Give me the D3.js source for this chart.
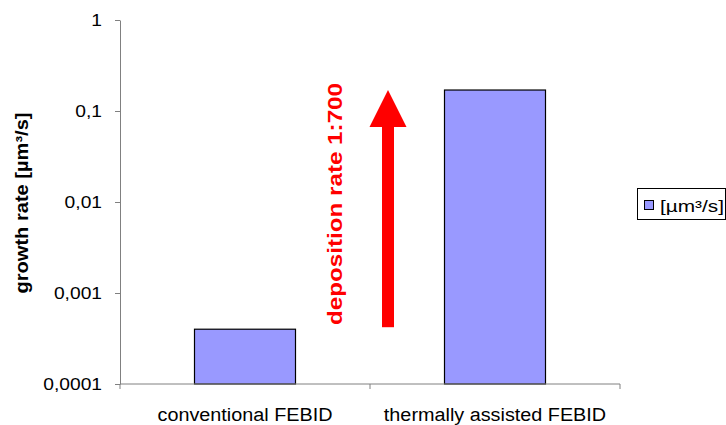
<!DOCTYPE html>
<html>
<head>
<meta charset="utf-8">
<script src="https://cdn.jsdelivr.net/npm/d3@7"></script>
<style>
  html, body { margin: 0; padding: 0; background: #fff; }
  svg { display: block; font-family: "Liberation Sans", Arial, sans-serif; }
</style>
</head>
<body>
<svg id="chart" width="726" height="425"></svg>
<script>
// ---- data ----
const categories = ["conventional FEBID", "thermally assisted FEBID"];
const values = [0.0004, 0.17];
const yTickValues = [0.0001, 0.001, 0.01, 0.1, 1];
const yTickLabels = ["0,0001", "0,001", "0,01", "0,1", "1"];
const seriesName = "[µm³/s]";
const yTitle = "growth rate [µm³/s]";
const annotation = "deposition rate 1:700";

// ---- layout ----
const svg = d3.select("#chart");
const plot = { left: 120, right: 620, top: 20, bottom: 384 };

const x = d3.scaleBand().domain(categories).range([plot.left, plot.right]).padding(0);
const y = d3.scaleLog().domain([0.0001, 1]).range([plot.bottom, plot.top]);

const axisColor = "#808080";
const barFill = "#9999ff";

// stretch helper: match reference glyph widths
function stretch(sel, k) {
  sel.each(function () {
    const len = this.getComputedTextLength();
    d3.select(this).attr("textLength", len * k).attr("lengthAdjust", "spacingAndGlyphs");
  });
}

// bars
const barW = x.bandwidth() * 0.404;
svg.append("g").selectAll("rect")
  .data(categories)
  .join("rect")
  .attr("x", (d) => x(d) + x.bandwidth() / 2 - barW / 2)
  .attr("y", (d, i) => y(values[i]))
  .attr("width", barW)
  .attr("height", (d, i) => y(0.0001) - y(values[i]))
  .attr("fill", barFill)
  .attr("stroke", "#000")
  .attr("stroke-width", 1.2);

// y axis
const yAxis = d3.axisLeft(y)
  .tickValues(yTickValues)
  .tickFormat((d, i) => yTickLabels[i])
  .tickSize(5)
  .tickSizeOuter(0)
  .tickPadding(13);
const gy = svg.append("g").attr("transform", `translate(${plot.left},0)`).call(yAxis);
gy.select(".domain").attr("stroke", axisColor);
gy.selectAll(".tick line").attr("stroke", axisColor);
gy.selectAll(".tick text")
  .attr("fill", "#000")
  .attr("font-size", 17)
  .attr("font-family", "Liberation Sans, Arial, sans-serif")
  .call(stretch, 1.13);

// x axis (ticks at band boundaries)
const boundaries = [plot.left].concat(categories.map((c) => x(c) + x.bandwidth()));
const gx = svg.append("g").attr("transform", `translate(0,${plot.bottom})`);
gx.append("line")
  .attr("x1", plot.left).attr("x2", plot.right)
  .attr("stroke", axisColor);
gx.selectAll("line.tk")
  .data(boundaries)
  .join("line")
  .attr("class", "tk")
  .attr("x1", (d) => d).attr("x2", (d) => d)
  .attr("y1", 0).attr("y2", 5)
  .attr("stroke", axisColor);
gx.selectAll("text")
  .data(categories)
  .join("text")
  .attr("x", (d) => x(d) + x.bandwidth() / 2)
  .attr("y", 37)
  .attr("text-anchor", "middle")
  .attr("font-size", 18)
  .attr("fill", "#000")
  .text((d) => d)
  .call(stretch, 1.1);

// y title
svg.append("text")
  .attr("transform", `translate(28,${(plot.top + plot.bottom) / 2 + 1}) rotate(-90)`)
  .attr("text-anchor", "middle")
  .attr("font-size", 18)
  .attr("font-weight", "bold")
  .attr("fill", "#000")
  .attr("textLength", 181)
  .attr("lengthAdjust", "spacingAndGlyphs")
  .text(yTitle);

// annotation arrow from conventional value to thermally assisted value
const arrowX = x(categories[1]) + 18;
const shaftW = 12, headW = 37, headH = 37;
const yLow = y(values[0]) - 2, yHigh = y(values[1]);
svg.append("rect")
  .attr("x", arrowX - shaftW / 2)
  .attr("y", yHigh + headH - 1)
  .attr("width", shaftW)
  .attr("height", yLow - (yHigh + headH - 1))
  .attr("fill", "#ff0000");
svg.append("path")
  .attr("d", `M${arrowX},${yHigh} L${arrowX + headW / 2},${yHigh + headH} L${arrowX - headW / 2},${yHigh + headH} Z`)
  .attr("fill", "#ff0000");

svg.append("text")
  .attr("transform", `translate(${x(categories[1]) - 28},${(83 + 325) / 2}) rotate(-90)`)
  .attr("text-anchor", "middle")
  .attr("font-size", 21)
  .attr("font-weight", "bold")
  .attr("fill", "#ff0000")
  .attr("textLength", 242)
  .attr("lengthAdjust", "spacingAndGlyphs")
  .text(annotation);

// legend
const lg = svg.append("g");
lg.append("rect")
  .attr("x", 637.5).attr("y", 188.5)
  .attr("width", 88).attr("height", 31)
  .attr("fill", "#fff")
  .attr("stroke", "#000");
lg.append("rect")
  .attr("x", 644.5).attr("y", 200.5)
  .attr("width", 9).attr("height", 9)
  .attr("fill", barFill)
  .attr("stroke", "#000");
lg.append("text")
  .attr("x", 660).attr("y", 212)
  .attr("font-size", 16)
  .attr("fill", "#000")
  .attr("textLength", 64)
  .attr("lengthAdjust", "spacingAndGlyphs")
  .text(seriesName);
</script>
</body>
</html>
